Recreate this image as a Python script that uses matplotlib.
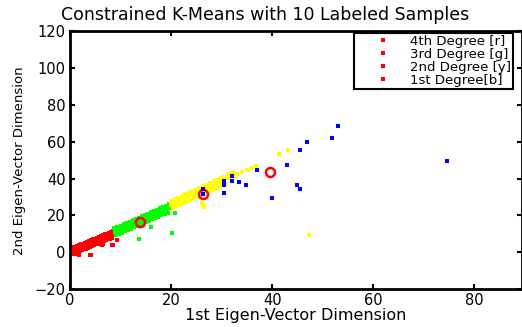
import matplotlib
matplotlib.use('Agg')
import matplotlib.pyplot as plt
from matplotlib.lines import Line2D

# 4th degree (red) cluster: upper edge, lower edge, middle, stray points
red_x = [0.2, 0.6, 1.0, 1.4, 1.8, 2.2, 2.6, 3.0, 3.4, 3.8, 4.2, 4.6, 5.0, 5.4, 5.8,
         6.2, 6.6, 7.0, 7.4, 7.8, 8.2, 8.6,
         0.4, 0.8, 1.2, 1.6, 2.0, 2.4, 2.8, 3.2, 3.6, 4.0, 4.4, 4.8, 5.2, 5.6, 6.0,
         6.4, 6.8, 7.2, 7.6, 8.0, 8.4,
         0.1, 0.5, 0.9, 1.3, 1.7, 2.1, 2.5, 2.9, 3.3, 3.7, 4.1, 4.5, 4.9, 5.3, 5.7,
         6.1, 6.5, 6.9, 7.3, 7.7, 8.1, 8.5,
         1.6, 4.0, 1.8, 4.2, 6.4, 8.6, 6.5, 8.4, 9.4]
red_y = [2.0, 2.6, 2.8, 3.5, 3.7, 4.4, 4.6, 5.3, 5.5, 6.2, 6.4, 7.1, 7.4, 7.9, 8.3,
         8.8, 9.2, 9.8, 10.1, 10.6, 11.0, 11.6,
         -1.2, -0.8, -0.2, 0.1, 0.7, 1.0, 1.6, 1.9, 2.5, 2.8, 3.4, 3.7, 4.3, 4.6, 5.2,
         5.5, 6.1, 6.5, 7.0, 7.4, 7.8,
         0.3, 0.8, 1.2, 1.7, 2.1, 2.6, 3.0, 3.5, 3.9, 4.3, 4.8, 5.2, 5.7, 6.1, 6.6,
         7.0, 7.5, 7.9, 8.4, 8.8, 9.3, 9.7,
         -0.7, -1.3, -1.6, -1.6, 3.8, 3.8, 4.4, 3.8, 6.9]

# 3rd degree (green) cluster
green_x = [8.8, 9.4, 10.0, 10.6, 11.2, 11.8, 12.4, 13.0, 13.6, 14.2, 14.8, 15.4, 16.0,
           16.6, 17.2, 17.8, 18.4, 19.0, 19.6,
           9.1, 9.7, 10.3, 10.9, 11.5, 12.1, 12.7, 13.3, 13.9, 14.5, 15.1, 15.7, 16.3,
           16.9, 17.5, 18.1, 18.7, 19.3,
           8.9, 9.5, 10.1, 10.7, 11.3, 11.9, 12.5, 13.1, 13.7, 14.3, 14.9, 15.5, 16.1,
           16.7, 17.3, 17.9, 18.5, 19.1, 19.7,
           20.7, 20.1, 13.7, 16.1, 14.4]
green_y = [13.1, 13.8, 14.5, 15.2, 15.9, 16.7, 17.4, 18.1, 18.8, 19.5, 20.3, 21.0, 21.7,
           22.4, 23.1, 23.9, 24.6, 25.3, 26.0,
           9.2, 10.0, 10.7, 11.4, 12.1, 12.8, 13.5, 14.3, 15.0, 15.7, 16.4, 17.1, 17.9,
           18.6, 19.3, 20.0, 20.7, 21.5,
           11.1, 11.8, 12.5, 13.2, 14.0, 14.7, 15.4, 16.1, 16.8, 17.6, 18.3, 19.0, 19.7,
           20.4, 21.2, 21.9, 22.6, 23.3, 24.0,
           21.2, 10.5, 7.4, 13.8, 14.7]

# 2nd degree (yellow) cluster
yellow_x = [20.0, 20.7, 21.4, 22.1, 22.8, 23.5, 24.2, 24.9, 25.6, 26.3, 27.0, 27.7,
            28.4, 29.1, 29.8, 30.5, 31.4, 32.3,
            20.3, 21.0, 21.7, 22.4, 23.1, 23.8, 24.5, 25.2, 25.9, 26.6, 27.3, 28.0,
            28.7, 29.4, 30.1, 30.8,
            19.9, 20.6, 21.3, 22.0, 22.7, 23.4, 24.1, 24.8, 25.5, 26.2, 26.9, 27.6,
            28.3, 29.0, 29.7, 30.4, 31.3, 32.2, 33.1, 34.0, 35.0, 36.0, 36.8,
            47.3, 41.3, 43.1, 35.1, 32.7, 26.3, 26.1, 26.5]
yellow_y = [27.8, 28.7, 29.6, 30.5, 31.4, 32.3, 33.1, 34.0, 34.9, 35.8, 36.7, 37.6,
            38.5, 39.4, 40.2, 41.1, 42.3, 43.4,
            24.0, 24.9, 25.8, 26.6, 27.5, 28.4, 29.3, 30.2, 31.1, 32.0, 32.9, 33.8,
            34.6, 35.5, 36.4, 37.3,
            25.6, 26.5, 27.4, 28.2, 29.1, 30.0, 30.9, 31.8, 32.7, 33.6, 34.5, 35.4,
            36.2, 37.1, 38.0, 38.9, 40.1, 41.2, 42.3, 43.5, 44.8, 46.0, 47.0,
            9.6, 53.2, 55.7, 44.6, 41.5, 25.6, 26.5, 24.8]

# 1st degree (blue) cluster
blue_x = [53.1, 51.8, 46.8, 45.5, 43.0, 36.9, 32.0, 30.4, 32.0, 33.5, 30.4, 34.8,
          26.3, 30.5, 39.9, 44.9, 45.5, 26.3, 74.5]
blue_y = [68.6, 62.0, 59.8, 55.5, 47.5, 44.8, 41.2, 38.6, 38.6, 38.3, 36.8, 36.5,
          34.1, 32.1, 29.4, 36.5, 34.4, 31.9, 49.5]

# labeled samples
lab_x = [13.9, 26.3, 39.5]
lab_y = [16.5, 31.9, 43.4]

labels = ['4th Degree [r]', '3rd Degree [g]', '2nd Degree [y]', '1st Degree[b]']

fig = plt.figure(figsize=(5.22, 3.27), dpi=100)
ax = fig.add_axes([0.134, 0.116, 0.866, 0.788])

ms = 3.3
ax.plot(red_x, red_y, 's', color='#ff0000', ms=ms, mew=0, zorder=2)
ax.plot(green_x, green_y, 's', color='#00ff00', ms=ms, mew=0, zorder=2)
ax.plot(yellow_x, yellow_y, 's', color='#ffff00', ms=ms, mew=0, zorder=2)
ax.plot(lab_x, lab_y, 'o', mfc='none', mec='#ff0000', ms=6.5, mew=1.8, zorder=3)
ax.plot(blue_x, blue_y, 's', color='#0000ff', ms=ms, mew=0, zorder=4)

ax.set_xlim(0, 89.4)
ax.set_ylim(-20, 120)
ax.set_xticks([0, 20, 40, 60, 80])
ax.set_yticks([-20, 0, 20, 40, 60, 80, 100, 120])
ax.tick_params(direction='in', length=3.5, width=1.5, top=True, right=True,
               labelsize=10.5, pad=3)
for s in ax.spines.values():
    s.set_linewidth(2)

ax.set_title('Constrained K-Means with 10 Labeled Samples', fontsize=12.5, x=0.432, pad=8)
ax.set_xlabel('1st Eigen-Vector Dimension', fontsize=11.5, labelpad=0)
ax.set_ylabel('2nd Eigen-Vector Dimension', fontsize=9.5, labelpad=6)

handles = [Line2D([], [], ls='none', marker='s', color='#ff0000', ms=2.5, mew=0)
           for _ in labels]
leg = ax.legend(handles, labels, loc='upper right', bbox_to_anchor=(0.981, 0.994),
                fontsize=9.5, labelspacing=0, handlelength=4.0, handletextpad=0.1,
                borderpad=0.15, fancybox=False, framealpha=1, borderaxespad=0)
leg.get_frame().set_edgecolor('black')
leg.get_frame().set_linewidth(1.5)

fig.savefig('out.png', dpi=100)
